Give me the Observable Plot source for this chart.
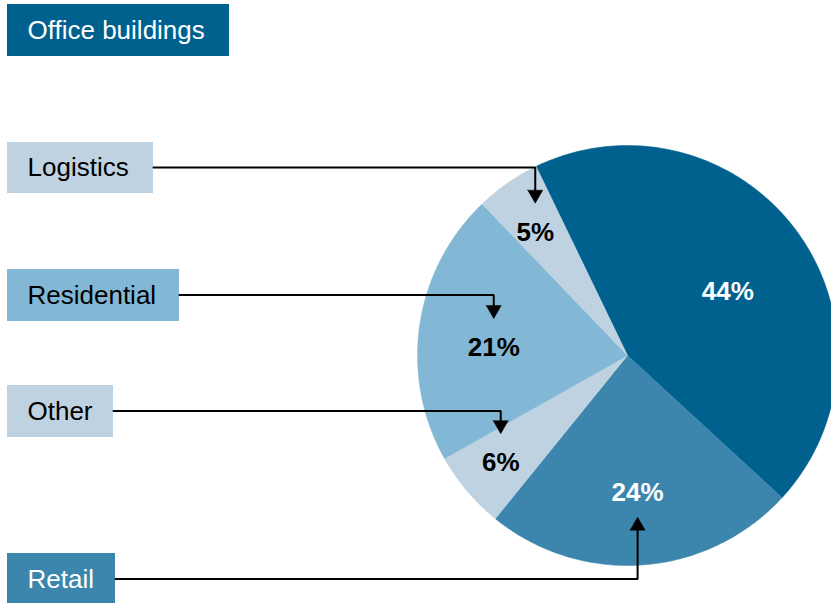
<!DOCTYPE html>
<html>
<head>
<meta charset="utf-8">
<script src="https://cdn.jsdelivr.net/npm/d3@7"></script>
<script src="https://cdn.jsdelivr.net/npm/@observablehq/plot@0.6"></script>
<style>
  html, body { margin: 0; padding: 0; background: #fff; overflow: hidden; }
  #chart svg { display: block; }
</style>
</head>
<body>
<div id="chart"></div>
<script>
// ---- data ----
const categories = ["Office buildings", "Retail", "Other", "Residential", "Logistics"];
const shares = [44, 24, 6, 21, 5];
const shareLabels = ["44%", "24%", "6%", "21%", "5%"];

// ---- styles ----
const sliceColors = ["#00618f", "#3c86ad", "#bfd2e1", "#82b8d5", "#bfd2e1"];
const valueTextColors = ["#ffffff", "#ffffff", "#000000", "#000000", "#000000"];
const boxTextColors = ["#ffffff", "#ffffff", "#000000", "#000000", "#000000"];

// ---- layout ----
const W = 831, H = 603;
const cx = 627, cy = 355, R = 210;
const startDeg = -25.8;
const labelRadius = [119, 138, 166, 134, 154];
const labelAngleShift = [4, 0, 0, -5, -2];
const boxLeft = 7;
const boxTop = [4, 553, 385, 269, 142];
const boxBottom = [56, 605, 437, 321, 193];
const boxWidth = [222, 108, 106, 172, 146];
const textLeft = 27;
const arrowDown = [null, false, true, true, true]; // Retail arrow points up
const arrowGapAbove = 29, arrowGapBelow = 24, arrowLen = 13;

const rad = Math.PI / 180;
const pie = d3.pie().sort(null).value(d => d.share).startAngle(startDeg * rad).endAngle((startDeg + 360) * rad);
const rows = categories.map((c, i) => ({c, share: shares[i], i}));
const arcs = pie(rows);

// slice polygons
const slicePts = [];
arcs.forEach(a => {
  const i = a.data.i;
  slicePts.push({i, x: cx, y: cy});
  const n = Math.max(8, Math.ceil((a.endAngle - a.startAngle) / rad));
  for (let k = 0; k <= n; k++) {
    const t = a.startAngle + (a.endAngle - a.startAngle) * k / n;
    slicePts.push({i, x: cx + R * Math.sin(t), y: cy - R * Math.cos(t)});
  }
  slicePts.push({i, x: cx, y: cy});
});

// value labels
const labels = arcs.map(a => {
  const i = a.data.i;
  const t = (a.startAngle + a.endAngle) / 2 + labelAngleShift[i] * rad;
  return {i, text: shareLabels[i], x: cx + labelRadius[i] * Math.sin(t), y: cy - labelRadius[i] * Math.cos(t)};
});

// boxes
const boxes = categories.map((c, i) => ({
  i, c, x1: boxLeft, x2: boxLeft + boxWidth[i], y1: boxTop[i], y2: boxBottom[i],
  ym: (boxTop[i] + boxBottom[i]) / 2
}));

// connectors and arrowheads (filled triangles built from the same geometry)
const connPts = [];
const headPts = [];
labels.forEach(l => {
  const i = l.i;
  if (arrowDown[i] === null) return;
  const b = boxes[i];
  const down = arrowDown[i];
  const tipY = down ? l.y - arrowGapAbove : l.y + arrowGapBelow;
  const baseY = down ? tipY - arrowLen : tipY + arrowLen;
  const ay = b.ym - 0.5;
  connPts.push({i, x: b.x2, y: ay});
  connPts.push({i, x: l.x, y: ay});
  connPts.push({i, x: l.x, y: baseY + (down ? 1 : -1)});
  headPts.push({i, x: l.x - 7.5, y: baseY});
  headPts.push({i, x: l.x + 7.5, y: baseY});
  headPts.push({i, x: l.x, y: tipY});
  headPts.push({i, x: l.x - 7.5, y: baseY});
});

const font = "'Liberation Sans', Arial, Helvetica, sans-serif";

const chart = Plot.plot({
  width: W,
  height: H,
  margin: 0,
  x: {type: "identity", axis: null},
  y: {type: "identity", axis: null},
  style: {fontFamily: font, background: "#fff", overflow: "hidden"},
  marks: [
    Plot.line(slicePts, {x: "x", y: "y", z: "i", fill: d => sliceColors[d.i], stroke: d => sliceColors[d.i], strokeWidth: 0.5, curve: "linear"}),
    Plot.rect(boxes, {x1: "x1", x2: "x2", y1: "y1", y2: "y2", fill: d => sliceColors[d.i]}),
    Plot.text(boxes, {x: textLeft, y: "ym", text: "c", textAnchor: "start", fill: d => boxTextColors[d.i], fontSize: 26}),
    Plot.line(connPts, {x: "x", y: "y", z: "i", stroke: "#000", strokeWidth: 2, strokeLinejoin: "miter"}),
    Plot.line(headPts, {x: "x", y: "y", z: "i", fill: "#000", stroke: "#000", strokeWidth: 0.5, curve: "linear"}),
    Plot.text(labels, {x: "x", y: "y", text: "text", fill: d => valueTextColors[d.i], fontSize: 26, fontWeight: "bold"})
  ]
});
document.getElementById("chart").appendChild(chart);
</script>
</body>
</html>
